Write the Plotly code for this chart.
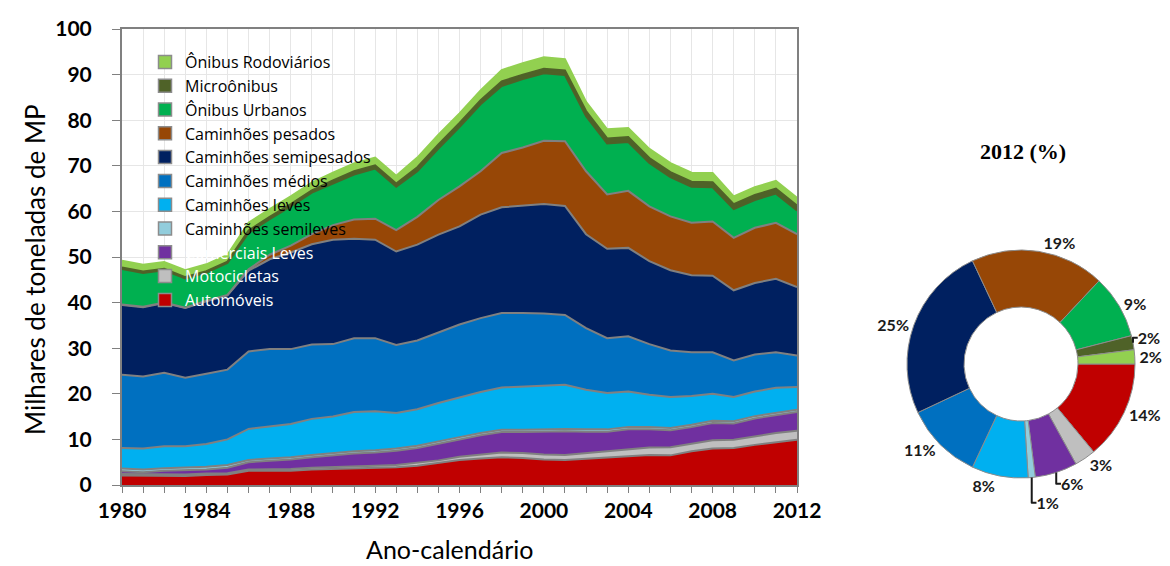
import plotly.graph_objects as go

years = list(range(1980, 2013))

automoveis = [2.1,2.1,2.1,2.0,2.2,2.3,3.1,3.1,3.1,3.4,3.5,3.6,3.7,3.9,4.2,4.8,5.5,5.8,6.1,5.9,5.6,5.5,5.8,6.1,6.4,6.6,6.5,7.4,8.0,8.1,8.8,9.4,9.9]
motocicletas = [0.3,0.3,0.3,0.3,0.3,0.3,0.3,0.4,0.4,0.4,0.4,0.5,0.5,0.5,0.7,0.6,0.7,0.9,1.0,1.1,1.1,1.1,1.2,1.3,1.5,1.6,1.8,1.7,1.8,1.8,1.9,2.0,2.0]
comerciais_leves = [0.6,0.4,0.7,0.9,0.9,1.2,1.6,1.8,2.1,2.3,2.6,2.8,2.9,3.1,3.2,3.7,3.8,4.2,4.5,4.6,5.0,5.2,4.7,4.3,4.3,4.0,3.7,3.6,3.8,3.6,3.9,3.9,4.1]
cam_semileves = [0.6,0.6,0.6,0.6,0.6,0.6,0.5,0.5,0.5,0.5,0.5,0.5,0.5,0.5,0.5,0.5,0.5,0.5,0.5,0.5,0.5,0.5,0.5,0.5,0.5,0.5,0.5,0.5,0.5,0.5,0.5,0.5,0.5]
cam_leves = [4.5,4.6,4.8,4.7,5.0,5.6,6.8,7.1,7.3,7.9,8.0,8.6,8.6,7.8,8.0,8.4,8.7,9.0,9.3,9.5,9.6,9.7,8.7,8.0,7.8,7.1,6.8,6.3,5.9,5.3,5.4,5.5,5.0]
cam_medios = [16.1,15.8,16.1,15.0,15.4,15.3,17.0,16.9,16.4,16.3,15.9,16.2,16.0,14.9,15.1,15.5,16.0,16.2,16.3,16.1,15.8,15.3,13.5,12.0,12.1,11.1,10.2,9.6,9.1,8.0,8.1,7.8,6.9]
cam_semipesados = [15.3,15.2,15.3,15.3,15.9,16.3,17.7,19.7,21.2,22.0,22.9,21.8,21.6,20.5,21.0,21.4,21.5,22.7,23.2,23.6,24.0,23.9,20.6,19.6,19.4,18.2,17.6,16.9,16.8,15.4,15.7,16.1,15.0]
cam_pesados = [0.1,0.1,0.1,0.1,0.1,0.1,0.3,1.0,1.5,2.2,3.2,4.2,4.6,4.7,6.1,7.6,8.8,9.5,11.9,12.7,13.9,14.2,13.8,11.9,12.5,12.0,11.8,11.5,11.9,11.5,12.1,12.3,11.6]
onibus_urbanos = [7.8,7.4,7.1,6.4,6.2,7.0,8.0,7.8,8.6,9.1,9.1,9.9,11.0,9.5,10.0,11.3,13.0,14.7,14.7,15.0,14.8,14.5,12.1,11.2,10.7,9.5,8.6,7.9,7.5,6.3,6.1,6.4,5.2]
microonibus = [0.3,0.3,0.3,0.3,0.3,0.3,0.5,0.5,0.5,0.5,0.7,0.7,0.7,0.7,0.9,0.9,0.9,0.9,1.0,1.0,1.0,1.0,1.1,1.1,1.1,1.1,1.1,1.1,1.1,1.1,1.1,1.1,1.1]
onibus_rodoviarios = [1.5,1.5,1.5,1.5,1.5,1.5,1.7,1.7,1.7,1.7,1.7,1.7,1.7,1.7,2.1,2.1,2.1,2.1,2.5,2.5,2.5,2.5,2.0,2.0,2.0,2.0,2.0,2.0,2.0,1.7,1.7,1.7,1.7]

series_names = ["Automóveis", "Motocicletas", "Comerciais Leves", "Caminhões semileves",
                "Caminhões leves", "Caminhões médios", "Caminhões semipesados",
                "Caminhões pesados", "Ônibus Urbanos", "Microônibus", "Ônibus Rodoviários"]
series_values = [automoveis, motocicletas, comerciais_leves, cam_semileves, cam_leves,
                 cam_medios, cam_semipesados, cam_pesados, onibus_urbanos, microonibus,
                 onibus_rodoviarios]
colors = ["#C00000", "#BFBFBF", "#7030A0", "#92CDDC", "#00B0F0", "#0070C0",
          "#002060", "#974706", "#00B050", "#4F6228", "#92D050"]
line_colors = ["#808080"] * 8 + ["#4F6228", "#4F6228", "#92D050"]
legend_text_colors = ["white"] * 3 + ["black"] * 8

pie_title = "2012 (%)"
pie_pct = [14, 3, 6, 1, 8, 11, 25, 19, 9, 2, 2]

W, H = 1170, 566
px_l, px_r, px_t, px_b = 114, 789, 21, 477

fig = go.Figure()
for i, (name, vals) in enumerate(zip(series_names, series_values)):
    fig.add_trace(go.Scatter(
        x=years, y=vals, name=name, stackgroup="one", mode="lines",
        line=dict(color=line_colors[i], width=2),
        fillcolor=colors[i], showlegend=False,
    ))

# legend entries (square swatches), top to bottom: Ônibus Rodoviários ... Automóveis
n = len(series_names)
for i in range(n):
    fig.add_trace(go.Scatter(
        x=[None], y=[None], mode="markers",
        name=f"<span style='color:{legend_text_colors[i]}'>{series_names[i]}</span>",
        marker=dict(symbol="square", size=13, color=colors[i],
                    line=dict(color="#8c8c8c", width=1.5)),
        legendrank=n - i, showlegend=True,
    ))

cx, cy, half = 1013, 356, 114
fig.add_trace(go.Pie(
    values=pie_pct, labels=series_names, sort=False, direction="clockwise",
    rotation=90, hole=0.5,
    marker=dict(colors=colors, line=dict(color="#8c8c8c", width=1)),
    texttemplate="%{value}%", textposition="outside",
    textfont=dict(family="Lato", size=16, color="#1a1a1a", weight="bold"),
    domain=dict(x=[(cx - half) / W, (cx + half) / W],
                y=[1 - (cy + half) / H, 1 - (cy - half) / H]),
    showlegend=False,
))

fig.update_layout(
    width=W, height=H,
    margin=dict(l=0, r=0, t=0, b=0),
    paper_bgcolor="white", plot_bgcolor="white",
    template="none",
    font=dict(family="Lato", color="black"),
    xaxis=dict(
        domain=[px_l / W, px_r / W], range=[1980, 2012],
        tickmode="linear", tick0=1980, dtick=4,
        ticks="outside", ticklen=6, tickcolor="#808080",
        tickfont=dict(family="Lato", size=21, weight="bold"),
        showgrid=True, gridcolor="#E6E6E6", gridwidth=1,
        minor=dict(dtick=1, ticks="outside", ticklen=6, tickcolor="#808080",
                   showgrid=True, gridcolor="#E6E6E6"),
        showline=True, linecolor="#808080", linewidth=2, mirror=True,
        automargin=False, zeroline=False,
    ),
    yaxis=dict(
        domain=[1 - px_b / H, 1 - px_t / H], range=[0, 100],
        tickmode="linear", tick0=0, dtick=10,
        ticks="outside", ticklen=8, tickcolor="#808080",
        ticklabelstandoff=16,
        tickfont=dict(family="Lato", size=21, weight="bold"),
        showgrid=True, gridcolor="#E6E6E6", gridwidth=1,
        showline=True, linecolor="#808080", linewidth=2, mirror=True,
        automargin=False, zeroline=False,
    ),
    legend=dict(
        x=137 / W, y=1 - 37 / H, xanchor="left", yanchor="top",
        bgcolor="rgba(0,0,0,0)", traceorder="normal",
        font=dict(family="Open Sans", size=16, color="black"),
        itemwidth=30,
    ),
    annotations=[
        dict(text="Milhares de toneladas de MP", x=27 / W, y=1 - 262 / H,
             xref="paper", yref="paper", textangle=-90, showarrow=False,
             xanchor="center", yanchor="middle",
             font=dict(family="Lato", size=26, color="black")),
        dict(text="Ano-calendário", x=441 / W, y=1 - 541 / H,
             xref="paper", yref="paper", showarrow=False,
             xanchor="center", yanchor="middle",
             font=dict(family="Lato", size=25, color="black")),
        dict(text=pie_title, x=1015 / W, y=1 - 143 / H,
             xref="paper", yref="paper", showarrow=False,
             xanchor="center", yanchor="middle",
             font=dict(family="Liberation Serif", size=22, weight="bold", color="black")),
    ],
)

fig.write_html("out.html")
